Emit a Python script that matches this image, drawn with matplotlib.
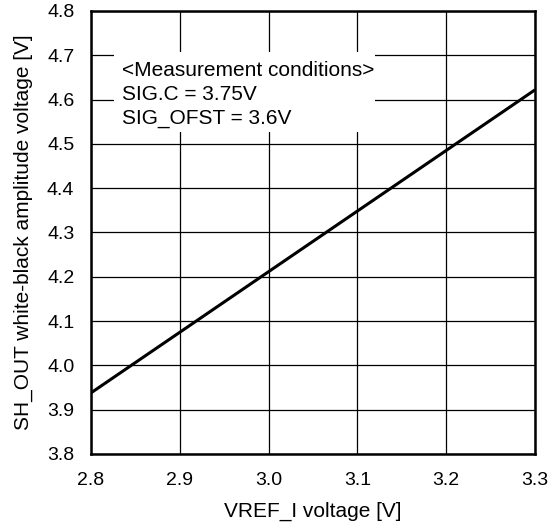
import matplotlib
matplotlib.use("Agg")
import matplotlib.pyplot as plt
from matplotlib.patches import Rectangle

plt.rcParams['font.family'] = ['Liberation Sans', 'DejaVu Sans']

vref = [2.8, 3.3]
amplitude = [3.938, 4.622]
x_ticks = [2.8, 2.9, 3.0, 3.1, 3.2, 3.3]
y_ticks = [3.8, 3.9, 4.0, 4.1, 4.2, 4.3, 4.4, 4.5, 4.6, 4.7, 4.8]
conditions = ["<Measurement conditions>", "SIG.C = 3.75V", "SIG_OFST = 3.6V"]

W, H = 553, 525
fig = plt.figure(figsize=(W / 100, H / 100), dpi=100)
ax_l, ax_r, ax_t, ax_b = 91, 535, 11, 454
ax = fig.add_axes([ax_l / W, 1 - ax_b / H, (ax_r - ax_l) / W, (ax_b - ax_t) / H])

ax.plot(vref, amplitude, color='black', linewidth=2.2, zorder=4, solid_capstyle='butt')
ax.set_xlim(2.8, 3.3)
ax.set_ylim(3.8, 4.8)
ax.set_xticks(x_ticks)
ax.set_yticks(y_ticks)
ax.set_xticklabels([f"{v:.1f}" for v in x_ticks], fontsize=14)
ax.set_yticklabels([f"{v:.1f}" for v in y_ticks], fontsize=14)
ax.tick_params(axis='x', length=0, pad=13)
ax.tick_params(axis='y', length=0, pad=12)
ax.grid(True, color='black', linewidth=0.9)
for s in ax.spines.values():
    s.set_linewidth(1.8)

ax.set_xlabel("VREF_I voltage [V]", fontsize=15, labelpad=9)
ax.set_ylabel("SH_OUT white-black amplitude voltage [V]", fontsize=15, labelpad=10)

# white panel behind the measurement conditions
ax.add_patch(Rectangle((114, H - 132), 261, 80, transform=None,
                       facecolor='white', edgecolor='none', zorder=3))
for line, base in zip(conditions, [76, 99.5, 123.5]):
    ax.text(122, H - base, line, transform=None, fontsize=15,
            va='baseline', ha='left', zorder=5)

fig.savefig("out.png", dpi=100)
